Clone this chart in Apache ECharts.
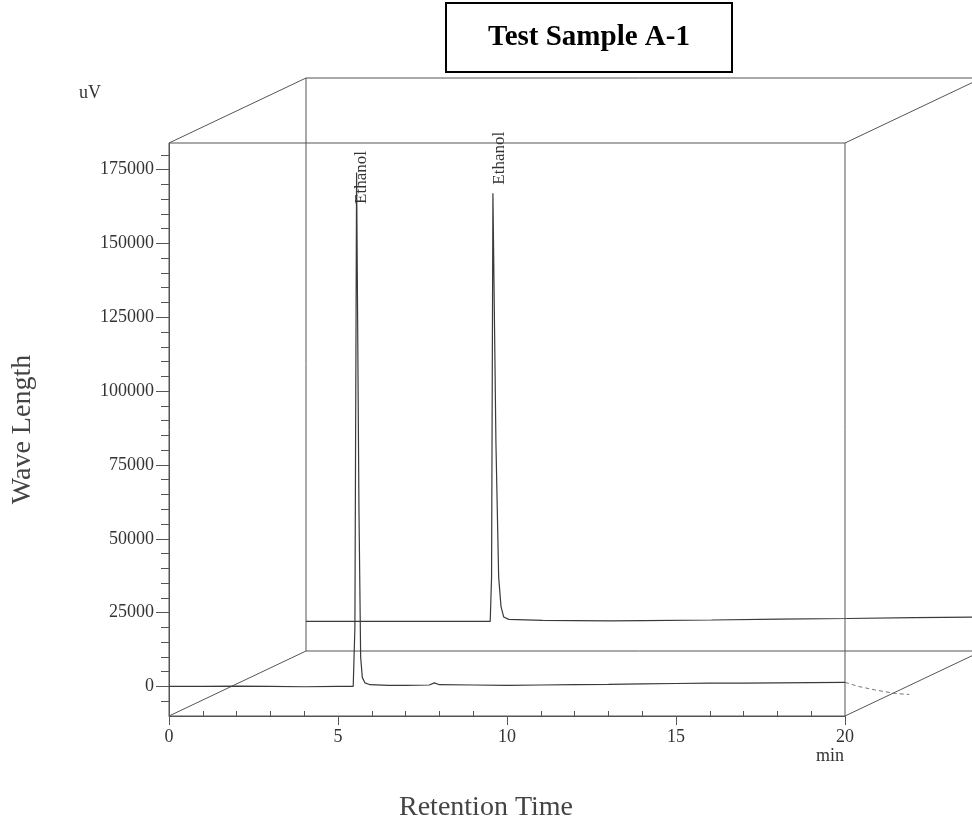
<!DOCTYPE html>
<html><head><meta charset="utf-8">
<script src="https://cdn.jsdelivr.net/npm/echarts@6/dist/echarts.min.js"></script>
<style>html,body{margin:0;padding:0;background:#fff}#c{width:972px;height:824px}</style>
</head><body><div id="c"></div>
<script>
// ---------- data ----------
const titleText = 'Test Sample A-1';
const yName = 'Wave Length';
const yUnit = 'uV';
const xName = 'Retention Time';
const xUnit = 'min';
const xMin = 0, xMax = 20;
const yMin = -10000, yMax = 184000;
const yMajorTicks = [0, 25000, 50000, 75000, 100000, 125000, 150000, 175000];
const yMinorTicks = [-5000, 5000, 10000, 15000, 20000, 30000, 35000, 40000, 45000, 55000, 60000, 65000, 70000,
  80000, 85000, 90000, 95000, 105000, 110000, 115000, 120000, 130000, 135000, 140000, 145000,
  155000, 160000, 165000, 170000, 180000];
const xMajorTicks = [0, 5, 10, 15, 20];
const xMinorTicks = [1, 2, 3, 4, 6, 7, 8, 9, 11, 12, 13, 14, 16, 17, 18, 19];

// front run
const frontTime  = [0, 1, 2, 3, 4, 5, 5.45, 5.50, 5.55, 5.62, 5.67, 5.72, 5.80, 5.95, 6.5, 7, 7.7, 7.85, 8, 9, 10, 11, 12, 13, 14, 15, 16, 17, 18, 19, 20];
const frontValue = [0, 0, 100, 0, -100, 0, 0, 20000, 174000, 60000, 10000, 3000, 1200, 600, 400, 400, 500, 1200, 600, 500, 400, 500, 600, 700, 900, 1000, 1100, 1100, 1200, 1300, 1400];
// front run tail drawn past the 20 min frame (dashed in the print)
const tailTime  = [20, 20.4, 20.9, 21.5, 21.9];
const tailValue = [1400, 0, -1200, -2400, -2700];
// back run
const backTime  = [0, 2, 4, 5, 5.45, 5.49, 5.53, 5.62, 5.70, 5.77, 5.85, 6, 7, 8, 9, 10, 12, 14, 16, 18, 20];
const backValue = [0, 0, 0, 0, 0, 15000, 145000, 60000, 15000, 5000, 1500, 700, 400, 300, 200, 300, 500, 800, 1000, 1300, 1500];

const peakName = 'Ethanol';
const frontPeak = [5.55, 174000];
const backPeak = [5.53, 145000];

// ---------- chart ----------
const FONT = 'Liberation Serif';
const LINE = '#3a3a3a';
const BOX = '#555';
const chart = echarts.init(document.getElementById('c'), null, {renderer: 'canvas'});

const zip = (a, b) => a.map((v, i) => [v, b[i]]);
const plain = v => String(v);

const G = {w: 676, h: 573};
const front = {left: 169, top: 143};
const back = {left: 306, top: 78};

const option = {
  animation: false,
  backgroundColor: '#fff',
  title: {
    text: titleText,
    left: 446, top: 3,
    padding: [20, 42, 20, 42],
    borderColor: '#000', borderWidth: 2,
    textStyle: {fontFamily: FONT, fontSize: 29, fontWeight: 'bold', color: '#000', lineHeight: 29}
  },
  grid: [
    {left: front.left, top: front.top, width: G.w, height: G.h, show: true, borderColor: BOX, borderWidth: 1,
     backgroundColor: 'transparent', containLabel: false, outerBoundsMode: 'none'},
    {left: back.left, top: back.top, width: G.w, height: G.h, show: true, borderColor: BOX, borderWidth: 1,
     backgroundColor: 'transparent', containLabel: false, outerBoundsMode: 'none'}
  ],
  xAxis: [
    {type: 'value', gridIndex: 0, min: xMin, max: xMax, position: 'bottom',
     axisLine: {show: true, onZero: false, lineStyle: {color: BOX, width: 1}},
     axisTick: {show: true, length: 9, customValues: xMajorTicks, lineStyle: {color: BOX}},
     axisLabel: {show: true, customValues: xMajorTicks, formatter: plain, margin: 12, fontFamily: FONT, fontSize: 18, color: '#333'},
     splitLine: {show: false}},
    {type: 'value', gridIndex: 0, min: xMin, max: xMax, position: 'bottom',
     name: xName, nameLocation: 'middle', nameGap: 78,
     nameTextStyle: {fontFamily: FONT, fontSize: 28, color: '#444', padding: [0, 42, 0, 0]},
     axisLine: {show: false, onZero: false},
     axisTick: {show: true, inside: true, length: 5, customValues: xMinorTicks, lineStyle: {color: BOX}},
     axisLabel: {show: false}, splitLine: {show: false}},
    {type: 'value', gridIndex: 1, min: xMin, max: xMax, show: false}
  ],
  yAxis: [
    {type: 'value', gridIndex: 0, min: yMin, max: yMax, position: 'left',
     name: yUnit, nameLocation: 'end', nameGap: 41,
     nameTextStyle: {fontFamily: FONT, fontSize: 18, color: '#333', align: 'right', padding: [0, 68, 0, 0]},
     axisLine: {show: true, onZero: false, lineStyle: {color: BOX, width: 1}},
     axisTick: {show: true, length: 13, customValues: yMajorTicks, lineStyle: {color: BOX}},
     axisLabel: {show: true, customValues: yMajorTicks, formatter: plain, margin: 15, fontFamily: FONT, fontSize: 18, color: '#333'},
     splitLine: {show: false}},
    {type: 'value', gridIndex: 0, min: yMin, max: yMax, position: 'left',
     name: yName, nameLocation: 'middle', nameGap: 132, nameRotate: 90,
     nameTextStyle: {fontFamily: FONT, fontSize: 28, color: '#444'},
     axisLine: {show: false, onZero: false},
     axisTick: {show: true, length: 8, customValues: yMinorTicks, lineStyle: {color: BOX}},
     axisLabel: {show: false}, splitLine: {show: false}},
    {type: 'value', gridIndex: 1, min: yMin, max: yMax, show: false}
  ],
  series: [
    {type: 'line', name: 'front', xAxisIndex: 0, yAxisIndex: 0, data: zip(frontTime, frontValue),
     showSymbol: false, clip: false, lineStyle: {color: LINE, width: 1.2},
     markPoint: {symbol: 'circle', symbolSize: 1, itemStyle: {color: 'rgba(0,0,0,0)'},
       data: [{coord: frontPeak, label: {show: true, formatter: peakName, rotate: 90, offset: [-5, 5],
         fontFamily: FONT, fontSize: 17, color: '#333'}}]}},
    {type: 'line', name: 'back', xAxisIndex: 2, yAxisIndex: 2, data: zip(backTime, backValue),
     showSymbol: false, clip: false, lineStyle: {color: LINE, width: 1.2},
     markPoint: {symbol: 'circle', symbolSize: 1, itemStyle: {color: 'rgba(0,0,0,0)'},
       data: [{coord: backPeak, label: {show: true, formatter: peakName, rotate: 90, offset: [35, 7],
         fontFamily: FONT, fontSize: 17, color: '#333'}}]}}
  ]
};
chart.setOption(option);

// perspective edges joining the front and back panels (positions from the axes)
const fp = (x, y) => chart.convertToPixel({xAxisIndex: 0, yAxisIndex: 0}, [x, y]);
const bp = (x, y) => chart.convertToPixel({xAxisIndex: 2, yAxisIndex: 2}, [x, y]);
const edge = (a, b) => ({type: 'line', silent: true, shape: {x1: a[0], y1: a[1], x2: b[0], y2: b[1]},
  style: {stroke: BOX, lineWidth: 1}});
const unitPos = fp(xMax, yMin);
// tail past the frame: front axes' scale extended linearly beyond x = 20
const tailPts = tailTime.map((t, i) => {
  const a = fp(xMax, tailValue[i]);
  const b = fp(xMax - 1, tailValue[i]);
  return [a[0] + (t - xMax) * (a[0] - b[0]), a[1]];
});
chart.setOption({graphic: [
  edge(fp(xMin, yMax), bp(xMin, yMax)),
  edge(fp(xMin, yMin), bp(xMin, yMin)),
  edge(fp(xMax, yMax), bp(xMax, yMax)),
  edge(fp(xMax, yMin), bp(xMax, yMin)),
  {type: 'polyline', silent: true, shape: {points: tailPts},
   style: {stroke: '#777', lineWidth: 1, lineDash: [4, 3], fill: null}},
  {type: 'text', silent: true, x: unitPos[0] - 1, y: unitPos[1] + 40,
   style: {text: xUnit, fontFamily: FONT, fontSize: 18, fill: '#333', align: 'right', verticalAlign: 'middle'}}
]});
</script></body></html>
